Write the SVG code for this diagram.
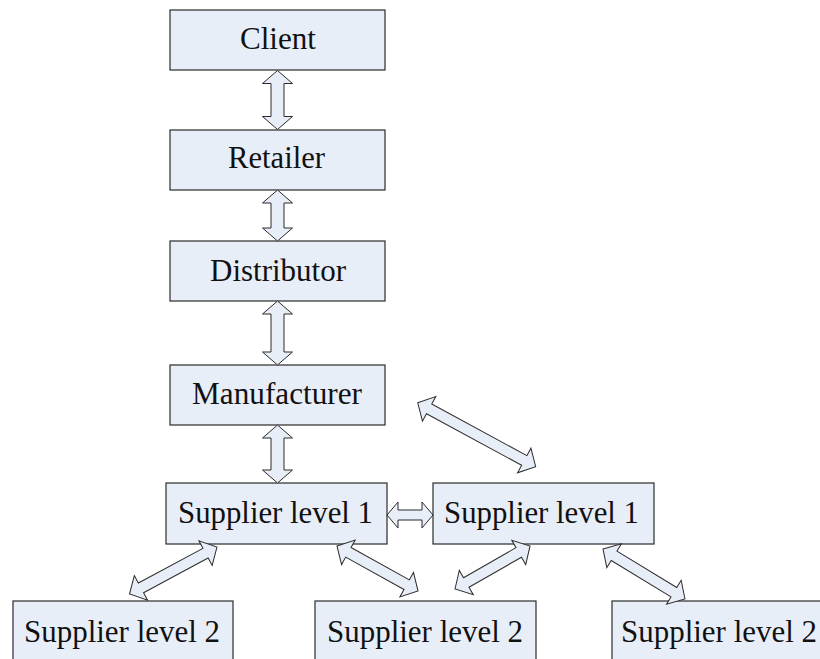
<svg xmlns="http://www.w3.org/2000/svg" width="820" height="659" viewBox="0 0 820 659">
<style>
.box{fill:#E8EEF8;stroke:#2b2b2b;stroke-width:1.2}
.lbl{font-family:"Liberation Serif","Times New Roman",serif;font-size:31px;fill:#111}
.arr{fill:#E8EEF8;stroke:#2b2b2b;stroke-width:1;stroke-linejoin:miter}
</style>
<rect width="820" height="659" fill="#fff"/>
<g id="client"><rect class="box" x="170" y="10" width="215" height="60"/><text class="lbl" x="240" y="49" textLength="76" lengthAdjust="spacingAndGlyphs">Client</text></g>
<g id="retailer"><rect class="box" x="170" y="130" width="215" height="60"/><text class="lbl" x="228" y="168" textLength="97" lengthAdjust="spacingAndGlyphs">Retailer</text></g>
<g id="distributor"><rect class="box" x="170" y="241" width="215" height="60"/><text class="lbl" x="210" y="281" textLength="136" lengthAdjust="spacingAndGlyphs">Distributor</text></g>
<g id="manufacturer"><rect class="box" x="170" y="365" width="215" height="60"/><text class="lbl" x="192" y="404" textLength="170" lengthAdjust="spacingAndGlyphs">Manufacturer</text></g>
<g id="supplier1a"><rect class="box" x="166" y="483" width="221" height="61"/><text class="lbl" x="178" y="523" textLength="195" lengthAdjust="spacingAndGlyphs">Supplier level 1</text></g>
<g id="supplier1b"><rect class="box" x="433" y="483" width="221" height="61"/><text class="lbl" x="444" y="523" textLength="195" lengthAdjust="spacingAndGlyphs">Supplier level 1</text></g>
<g id="supplier2a"><rect class="box" x="13" y="601" width="220" height="70"/><text class="lbl" x="24" y="642" textLength="196" lengthAdjust="spacingAndGlyphs">Supplier level 2</text></g>
<g id="supplier2b"><rect class="box" x="315" y="601" width="221" height="70"/><text class="lbl" x="327" y="642" textLength="196" lengthAdjust="spacingAndGlyphs">Supplier level 2</text></g>
<g id="supplier2c"><rect class="box" x="612" y="601" width="221" height="70"/><text class="lbl" x="621" y="642" textLength="196" lengthAdjust="spacingAndGlyphs">Supplier level 2</text></g>
<g id="connectors">
<path class="arr" transform="translate(277.5,70.5) rotate(90)" d="M0,0 L13,-15 L13,-6.5 L46,-6.5 L46,-15 L59,0 L46,15 L46,6.5 L13,6.5 L13,15 Z"/>
<path class="arr" transform="translate(277.5,190) rotate(90)" d="M0,0 L13,-15 L13,-6.5 L38,-6.5 L38,-15 L51,0 L38,15 L38,6.5 L13,6.5 L13,15 Z"/>
<path class="arr" transform="translate(277.5,301) rotate(90)" d="M0,0 L13,-15 L13,-6.5 L51,-6.5 L51,-15 L64,0 L51,15 L51,6.5 L13,6.5 L13,15 Z"/>
<path class="arr" transform="translate(277.5,425) rotate(90)" d="M0,0 L13,-15 L13,-6.5 L45,-6.5 L45,-15 L58,0 L45,15 L45,6.5 L13,6.5 L13,15 Z"/>
<path class="arr" transform="translate(387,515)" d="M0,0 L11,-13 L11,-5 L35,-5 L35,-13 L46,0 L35,13 L35,5 L11,5 L11,13 Z"/>
<path class="arr" transform="translate(417.7,402.7) rotate(28.47)" d="M0,0 L13,-14 L13,-5.5 L121.2,-5.5 L121.2,-14 L134.2,0 L121.2,14 L121.2,5.5 L13,5.5 L13,14 Z"/>
<path class="arr" transform="translate(129.5,594) rotate(-28.24)" d="M0,0 L13,-14 L13,-5.5 L86.3,-5.5 L86.3,-14 L99.3,0 L86.3,14 L86.3,5.5 L13,5.5 L13,14 Z"/>
<path class="arr" transform="translate(337,546) rotate(29.05)" d="M0,0 L13,-14 L13,-5.5 L79.7,-5.5 L79.7,-14 L92.7,0 L79.7,14 L79.7,5.5 L13,5.5 L13,14 Z"/>
<path class="arr" transform="translate(455,589) rotate(-29.83)" d="M0,0 L13,-14 L13,-5.5 L73.5,-5.5 L73.5,-14 L86.5,0 L73.5,14 L73.5,5.5 L13,5.5 L13,14 Z"/>
<path class="arr" transform="translate(603,549) rotate(31.37)" d="M0,0 L13,-14 L13,-5.5 L83,-5.5 L83,-14 L96,0 L83,14 L83,5.5 L13,5.5 L13,14 Z"/>
</g>
</svg>
